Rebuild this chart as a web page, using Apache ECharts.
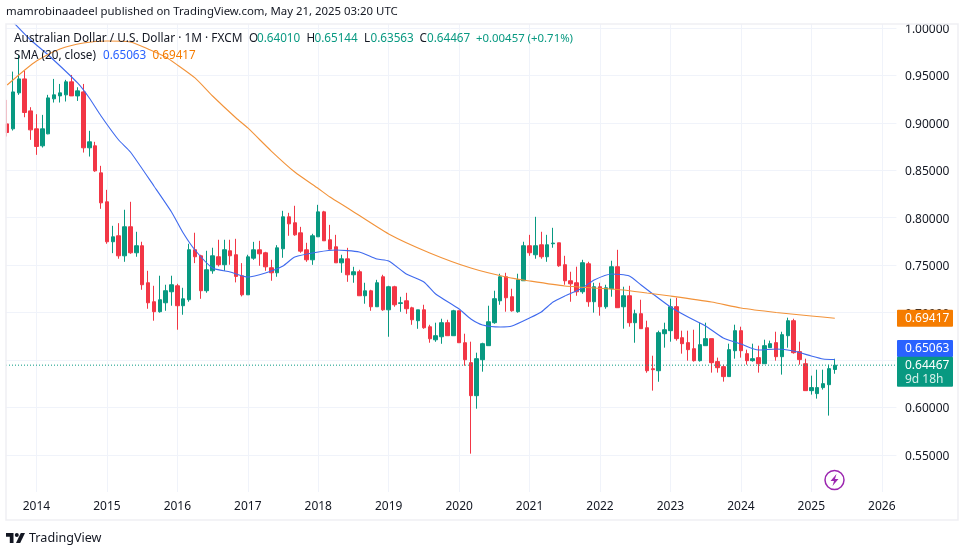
<!DOCTYPE html>
<html>
<head>
<meta charset="utf-8">
<script src="https://cdn.jsdelivr.net/npm/echarts@6/dist/echarts.min.js"></script>
<style>html,body{margin:0;padding:0;background:#fff}#c{width:963px;height:550px}</style>
</head>
<body>
<div id="c"></div>
<script>
var yTicks = [0.55,0.60,0.65,0.70,0.75,0.80,0.85,0.90,0.95,1.00];
var yearLabelMonth = '-01';
var opens = [.8989,.8937,.9316,.9463,.9126,.8937,.8758,.8884,.9253,.9284,.9295,.9432,.9284,.9326,.8737,.8758,.8473,.8168,.7747,.7810,.7599,.7905,.7631,.7705,.7315,.7115,.7010,.7104,.7220,.7283,.7073,.7136,.7663,.7599,.7231,.7441,.7589,.7505,.7652,.7610,.7388,.7188,.7574,.7662,.7631,.7473,.7420,.7673,.8010,.7947,.7841,.7662,.7557,.7799,.8062,.7768,.7694,.7525,.7567,.7399,.7431,.7178,.7230,.7062,.7378,.7030,.7273,.7097,.7125,.7051,.6915,.7030,.6851,.6714,.6746,.6894,.6757,.7020,.6683,.6473,.6125,.6504,.6652,.6894,.7125,.7378,.7168,.7010,.7336,.7705,.7610,.7715,.7589,.7726,.7736,.7505,.7336,.7315,.7220,.7515,.7115,.7273,.7062,.7252,.7484,.7062,.7178,.6894,.6989,.6841,.6409,.6388,.6778,.6810,.7063,.6736,.6684,.6620,.6494,.6652,.6726,.6484,.6431,.6326,.6599,.6810,.6568,.6494,.6526,.6462,.6631,.6684,.6536,.6757,.6915,.6589,.6462,.6178,.6147,.6210,.6241,.64010];
var closes = [.8898,.9326,.9463,.9109,.8926,.8751,.8937,.9263,.9295,.9316,.9432,.9284,.9337,.8737,.8800,.8494,.8157,.7747,.7799,.7599,.7905,.7631,.7705,.7294,.7104,.7010,.7136,.7231,.7294,.7073,.7146,.7663,.7589,.7231,.7452,.7599,.7505,.7663,.7599,.7382,.7188,.7588,.7662,.7620,.7483,.7420,.7683,.8010,.7936,.7820,.7648,.7557,.7810,.8062,.7757,.7669,.7525,.7567,.7399,.7431,.7178,.7230,.7062,.7315,.7030,.7273,.7083,.7104,.7041,.6925,.7030,.6841,.6725,.6757,.6894,.6757,.7020,.6683,.6504,.6125,.6515,.6673,.6904,.7147,.7378,.7157,.7020,.7347,.7705,.7631,.7705,.7589,.7715,.7733,.7494,.7336,.7304,.7220,.7526,.7115,.7273,.7062,.7262,.7484,.7052,.7178,.6894,.6989,.6831,.6388,.6399,.6789,.6820,.7062,.6726,.6673,.6610,.6494,.6663,.6726,.6473,.6420,.6326,.6610,.6810,.6599,.6494,.6515,.6462,.6652,.6673,.6536,.6768,.6915,.6578,.6505,.6178,.6210,.6210,.6252,.6410,.64467];
var highs = [.9242,.9540,.9716,.9551,.9165,.9091,.9084,.9295,.9463,.9410,.9453,.9505,.9375,.9410,.8916,.8800,.8547,.8294,.7915,.7943,.8084,.8168,.7852,.7747,.7441,.7283,.7389,.7294,.7389,.7304,.7262,.7726,.7842,.7610,.7652,.7684,.7768,.7768,.7768,.7778,.7522,.7610,.7746,.7757,.7641,.7557,.7711,.8073,.8052,.8126,.7904,.7736,.7831,.8136,.8073,.7925,.7820,.7610,.7683,.7483,.7452,.7315,.7241,.7346,.7399,.7283,.7283,.7167,.7209,.7062,.7030,.7083,.6872,.6894,.6936,.6925,.7030,.7020,.6778,.6694,.6578,.6683,.7073,.7231,.7410,.7420,.7252,.7410,.7747,.7820,.8010,.7852,.7820,.7894,.7736,.7599,.7431,.7484,.7557,.7536,.7315,.7315,.7294,.7547,.7662,.7273,.7283,.7031,.7136,.6915,.6546,.6810,.6894,.7147,.7157,.6810,.6810,.6820,.6894,.6894,.6726,.6526,.6452,.6673,.6873,.6852,.6610,.6673,.6652,.6715,.6705,.6799,.6799,.6947,.6936,.6694,.6515,.6336,.6399,.6399,.6452,.65144];
var lows = [.8856,.8919,.9295,.9059,.8821,.8663,.8740,.8880,.9214,.9214,.9225,.9284,.9231,.8687,.8645,.8484,.8094,.7726,.7627,.7568,.7536,.7620,.7589,.7241,.7041,.6915,.7000,.7020,.7073,.6820,.6978,.7115,.7522,.7146,.7210,.7410,.7487,.7441,.7505,.7319,.7171,.7188,.7557,.7494,.7441,.7336,.7378,.7578,.7810,.7810,.7631,.7536,.7504,.7799,.7757,.7662,.7525,.7420,.7325,.7315,.7178,.7094,.7020,.7062,.7020,.6746,.7062,.7009,.6988,.6872,.6830,.6830,.6683,.6693,.6672,.6757,.6757,.6683,.6441,.5514,.5988,.6378,.6652,.6883,.7083,.7010,.7010,.6999,.7336,.7599,.7568,.7568,.7536,.7684,.7483,.7294,.7115,.7178,.7199,.7062,.7000,.6968,.7041,.7168,.7052,.6831,.6852,.6683,.6831,.6367,.6178,.6272,.6631,.6694,.6705,.6568,.6494,.6484,.6484,.6652,.6368,.6368,.6273,.6326,.6515,.6526,.6452,.6484,.6368,.6462,.6631,.6494,.6347,.6631,.6568,.6452,.6178,.6136,.6094,.6189,.5915,.63563];
var sma20 = [['2013-09',1.0063],['2013-12',.9873],['2014-03',.9715],['2014-08',.942],['2014-10',.9262],['2014-12',.9072],['2015-03',.8819],['2015-05',.8693],['2015-09',.8335],['2015-12',.8061],['2016-02',.7839],['2016-04',.766],['2016-07',.747],['2016-10',.7428],['2017-01',.7376],['2017-04',.7418],['2017-07',.7492],['2017-09',.7586],['2018-01',.7639],['2018-04',.766],['2018-08',.7639],['2018-11',.7565],['2019-01',.7544],['2019-04',.7407],['2019-07',.7323],['2019-09',.7197],['2020-01',.7038],['2020-03',.6933],['2020-05',.687],['2020-08',.6849],['2020-10',.6859],['2021-01',.6944],['2021-03',.7007],['2021-05',.7112],['2021-07',.7175],['2021-10',.726],['2021-12',.7344],['2022-03',.7407],['2022-06',.7386],['2022-08',.7291],['2022-10',.7197],['2023-01',.706],['2023-04',.6954],['2023-07',.6859],['2023-10',.6733],['2024-01',.667],['2024-04',.6606],['2024-07',.6617],['2024-10',.6596],['2025-01',.6543],['2025-03',.6512],['2025-05',.65063]];
var sma100 = [['2013-08',.9399],['2013-11',.9557],['2014-01',.9652],['2014-05',.9778],['2014-09',.9841],['2015-01',.9862],['2015-05',.9852],['2015-08',.9778],['2015-11',.9694],['2016-01',.961],['2016-04',.9473],['2016-07',.9283],['2016-11',.9051],['2017-01',.8946],['2017-05',.8703],['2017-09',.8482],['2018-01',.8308],['2018-03',.8219],['2018-06',.8103],['2019-01',.7829],['2019-08',.7629],['2020-03',.747],['2020-09',.7376],['2021-01',.7334],['2021-07',.7281],['2022-05',.7239],['2022-09',.7207],['2023-01',.7175],['2023-08',.7112],['2024-01',.7049],['2024-07',.7002],['2025-01',.6965],['2025-05',.69417]];
var lastPrice = .64467, sma20Last = .65063, sma100Last = .69417;

var categories = [];
(function(){var y=2013,m=8;for(var i=0;i<152;i++){categories.push(y+'-'+(m<10?'0':'')+m);m++;if(m>12){m=1;y++;}}})();
var candles = opens.map(function(o,i){return [o,closes[i],lows[i],highs[i]];});

var UP='#089981',DOWN='#F23645',BLUE='#2962FF',ORANGE='#F57C00',INK='#131722';
var FONT='"Noto Sans"';
var isYear=function(i,v){return v.slice(-3)===yearLabelMonth;};
var chart=echarts.init(document.getElementById('c'),null,{renderer:'canvas'});
chart.setOption({
  animation:false,
  backgroundColor:'#ffffff',
  textStyle:{fontFamily:FONT},
  grid:{left:4.2,right:66.56,top:24,bottom:58,containLabel:false},
  xAxis:{type:'category',data:categories,boundaryGap:true,
    axisLine:{show:false},axisTick:{show:false},
    axisLabel:{interval:isYear,formatter:function(v){return v.slice(0,4);},color:INK,fontSize:12,margin:9,fontFamily:FONT},
    splitLine:{show:true,interval:isYear,alignWithLabel:true,lineStyle:{color:'#F0F3FA',width:1}}},
  yAxis:{type:'value',position:'right',min:.51101,max:1.00416,scale:true,
    axisLine:{show:false},
    axisTick:{show:false,customValues:yTicks},
    axisLabel:{customValues:yTicks,formatter:function(v){return '{v|'+v.toFixed(5)+'}';},margin:8.6,align:'left',
      rich:{v:{color:INK,fontSize:12,fontFamily:FONT,padding:[3,0,0,0]}}},
    splitLine:{show:true,lineStyle:{color:'#F0F3FA',width:1}}},
  series:[
    {type:'candlestick',name:'AUDUSD',data:candles,barWidth:4,
      itemStyle:{color:UP,color0:DOWN,borderColor:UP,borderColor0:DOWN,borderWidth:1}},
    {type:'line',name:'SMA 20',data:sma20,showSymbol:false,smooth:.2,lineStyle:{color:'#3F6AEE',width:1.1},z:4},
    {type:'line',name:'SMA 100',data:sma100,showSymbol:false,smooth:.2,lineStyle:{color:'#F2933A',width:1.1},z:4}
  ]
});

function txt(x,y,t,color,size,weight){return {type:'text',x:x,y:y,z:50,silent:true,style:{text:t,fill:color,font:(weight||'normal')+' '+(size||12)+'px '+FONT,textVerticalAlign:'middle',textBaseline:'middle'}};}
var toY=function(v){return chart.convertToPixel({yAxisIndex:0},v);};
var yO=toY(sma100Last),yB=toY(sma20Last),yG=toY(lastPrice);
var tagX=897,tagW=56;
var LEG1='#089981',HS=11.4,LS=11.7;
var els=[
  {type:'rect',z:40,silent:true,shape:{x:0,y:0,width:5.5,height:530},style:{fill:'#fff'}},
  {type:'rect',z:40,silent:true,shape:{x:0,y:0,width:963,height:23.5},style:{fill:'#fff'}},
  {type:'rect',z:41,silent:true,shape:{x:6,y:24,width:952,height:496},style:{fill:'none',stroke:'#EFF0F3',lineWidth:1.5}},
  {type:'line',z:3,silent:true,shape:{x1:6,y1:yG,x2:897,y2:yG},style:{stroke:UP,lineWidth:1,lineDash:[1,2]}},
  txt(6,12,'mamrobinaadeel published on TradingView.com, May 21, 2025 03:20 UTC',INK,HS),
  txt(14,39,'Australian Dollar / U.S. Dollar · 1M · FXCM',INK,11.85),
  txt(249,39,'O',INK,LS),txt(257,39,'0.64010',LEG1,LS),
  txt(306.5,39,'H',INK,LS),txt(314.5,39,'0.65144',LEG1,LS),
  txt(364,39,'L',INK,LS),txt(370.5,39,'0.63563',LEG1,LS),
  txt(419.5,39,'C',INK,LS),txt(427,39,'0.64467',LEG1,LS),
  txt(476,39,'+0.00457 (+0.71%)',LEG1,11.4),
  txt(14,56,'SMA (20, close)',INK,LS),txt(103,56,'0.65063',BLUE,LS),txt(152.5,56,'0.69417',ORANGE,LS),
  // price tags follow the value axis
  {type:'rect',z:45,silent:true,shape:{x:tagX,y:yO-8.5,width:tagW,height:17,r:1},style:{fill:'#F57C00'}},
  txt(905,yO,'0.69417','#fff',12),
  {type:'rect',z:45,silent:true,shape:{x:tagX,y:yB-19.5,width:tagW,height:17,r:1},style:{fill:BLUE}},
  txt(905,yB-11,'0.65063','#fff',12),
  {type:'rect',z:46,silent:true,shape:{x:tagX,y:yG-8.5,width:tagW,height:30,r:1},style:{fill:UP}},
  txt(905,yG,'0.64467','#fff',12),txt(905,yG+14,'9d 18h','#D5F0EA',12),
  // lightning badge
  {type:'circle',z:30,silent:true,shape:{cx:834.5,cy:480,r:9.5},style:{fill:'#fff',stroke:'#9C27B0',lineWidth:1.5}},
  {type:'polygon',z:31,silent:true,shape:{points:[[836.5,474],[830.5,481],[834,481],[832.5,486],[838.5,479],[835,479]]},style:{fill:'#9C27B0'}},
  // footer logo
  {type:'polygon',z:30,silent:true,shape:{points:[[6,533],[13.5,533],[13.5,543],[9.8,543],[9.8,536.8],[6,536.8]]},style:{fill:INK}},
  {type:'polygon',z:30,silent:true,shape:{points:[[20.8,533],[25,533],[20.2,543],[16,543]]},style:{fill:INK}},
  {type:'circle',z:30,silent:true,shape:{cx:16.8,cy:535,r:2},style:{fill:INK}},
  txt(29,538,'TradingView',INK,12.6)
];
chart.setOption({graphic:{elements:els}});
</script>
</body>
</html>
